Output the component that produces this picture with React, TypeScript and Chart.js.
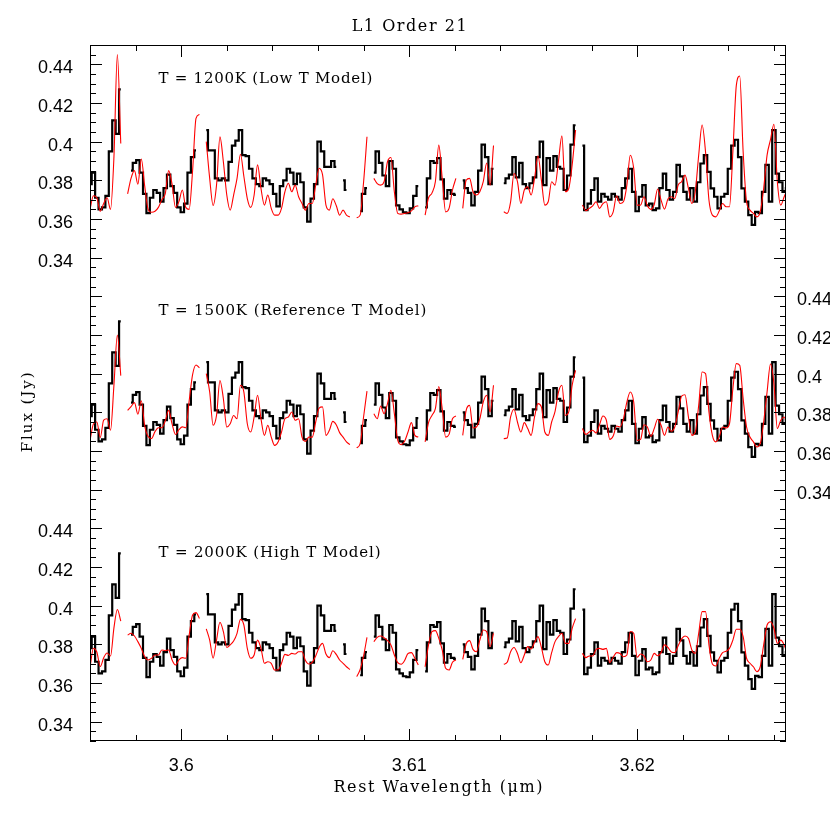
import React, { useEffect, useRef } from 'react';
import { Chart, registerables } from 'chart.js';

Chart.register(...registerables);

// ---------- data ----------
const WAVELENGTH_START = 3.596; // µm, first sample of the regular grid
const WAVELENGTH_STEP = 0.00015; // µm per sample
const X_MIN = 3.596;
const X_MAX = 3.62653;
const Y_MIN = 0.33;
const Y_MAX = 0.69;

const N = null;

// observed spectrum (same in all three panels), Jy
const observedFlux: (number | null)[] = [
  0.378, 0.384, 0.371, 0.365, 0.366, 0.372, 0.395, 0.411, 0.404, 0.427,
  N, N, 0.385, 0.389, 0.3905, 0.384, 0.373, 0.363, 0.371, 0.375,
  0.3735, 0.369, 0.376, 0.383, 0.377, 0.3735, 0.366, 0.3635, 0.368, 0.384,
  0.392, 0.3955, N, N, 0.406, 0.3955, 0.3955, 0.381, 0.38, 0.381,
  0.38, 0.3895, 0.398, 0.4005, 0.406, 0.393, 0.3925, 0.386, 0.381, 0.378,
  0.377, 0.381, 0.38, 0.378, 0.373, 0.3665, 0.377, 0.38, 0.386, 0.384,
  0.378, 0.3835, 0.379, 0.366, 0.3586, 0.3705, 0.378, 0.4, 0.395, 0.387,
  0.387, 0.39, 0.387, N, 0.38, 0.375, N, N, N, 0.364,
  0.373, 0.376, N, 0.384, 0.395, 0.389, 0.3825, 0.377, 0.39, 0.386,
  0.367, 0.365, 0.3635, 0.363, 0.3655, 0.372, 0.377, N, 0.366, 0.381,
  0.39, 0.389, 0.3915, 0.3805, 0.3705, 0.375, 0.373, 0.3725, N, 0.38,
  0.376, 0.3735, 0.367, 0.374, 0.385, 0.3985, 0.392, 0.378, 0.386, N,
  N, 0.3785, 0.381, 0.383, 0.392, 0.3815, 0.389, 0.378, 0.376, 0.3785,
  0.3815, 0.392, 0.4, 0.3775, 0.3915, 0.385, 0.3925, 0.387, 0.386, 0.375,
  0.3825, 0.3985, 0.4085, N, 0.398, 0.3646, 0.368, 0.375, 0.381, 0.369,
  0.373, 0.3715, 0.37, 0.373, 0.3715, 0.37, 0.376, 0.381, 0.386, 0.374,
  0.364, 0.3715, 0.3775, 0.367, 0.368, 0.3646, 0.3655, 0.376, 0.3835, 0.375,
  0.37, 0.374, 0.388, 0.382, 0.374, 0.37, 0.376, 0.369, 0.379, 0.3887,
  0.393, 0.3844, 0.3758, 0.3715, 0.3655, 0.3715, 0.373, 0.386, 0.398, 0.401,
  0.392, 0.3758, 0.369, 0.362, 0.357, 0.3637, 0.363, 0.374, 0.388, 0.369,
  0.406, 0.3835, 0.379, 0.374, 0.376,
];

// T = 1200K model
const model1200K: (number | null)[] = [
  0.365, 0.372, 0.371, 0.364, 0.368, 0.371, 0.365, 0.392, 0.445, 0.399,
  N, 0.373, 0.381, 0.385, 0.378, 0.391, 0.377, 0.365, 0.3635, 0.364,
  0.366, 0.37, 0.373, 0.385, 0.378, 0.366, 0.369, 0.375, 0.366, 0.365,
  0.385, 0.412, 0.414, N, 0.4, 0.381, 0.367, 0.3775, 0.4025, 0.3896,
  0.3724, 0.3646, 0.3724, 0.381, 0.3935, 0.382, 0.3706, 0.366, 0.3724, 0.388,
  0.3758, 0.3672, 0.3724, 0.3655, 0.362, 0.362, 0.3655, 0.3741, 0.3785, 0.3741,
  0.3775, 0.3715, 0.368, 0.3646, 0.368, 0.368, 0.3775, 0.3862, 0.383, 0.3672,
  0.3646, 0.3705, 0.367, 0.362, 0.3646, 0.362, 0.361, N, 0.3607, 0.362,
  0.379, 0.4025, N, 0.381, 0.3783, 0.3775, 0.3793, 0.3896, 0.3918, 0.3741,
  0.3629, 0.3625, 0.3629, 0.3632, 0.3642, 0.3663, 0.3668, N, 0.362, 0.371,
  0.3734, 0.3793, 0.3982, 0.381, 0.3637, 0.3655, 0.375, 0.381, N, 0.3655,
  0.38, 0.381, 0.3741, 0.3724, 0.3741, 0.3793, 0.389, 0.3775, 0.398, N,
  N, 0.3637, 0.3629, 0.3689, 0.3835, 0.3793, 0.368, 0.375, 0.3767, 0.3724,
  0.381, 0.3927, 0.3801, 0.3672, 0.3689, 0.3793, 0.3775, 0.39, 0.403, 0.3741,
  0.3758, 0.3879, 0.406, N, 0.3672, 0.3643, 0.3655, 0.3668, 0.3689, 0.3655,
  0.368, 0.3689, 0.3611, 0.3637, 0.372, 0.368, 0.3689, 0.3775, 0.393, 0.3862,
  0.3672, 0.3672, 0.3715, 0.3668, 0.365, 0.3675, 0.3755, 0.3698, 0.3651, 0.3703,
  0.3715, 0.3706, 0.3775, 0.3793, 0.3827, 0.3758, 0.368, 0.3741, 0.393, 0.4086,
  0.3948, 0.3698, 0.362, 0.3611, 0.3641, 0.368, 0.3663, 0.3663, 0.3948, 0.429,
  0.434, 0.3948, 0.3689, 0.3646, 0.3629, 0.3611, 0.3637, 0.3758, 0.393, 0.401,
  0.409, 0.3793, 0.3672, 0.3715, 0.3758,
];

// T = 1500K model
const model1500K: (number | null)[] = [
  0.3655, 0.374, 0.375, 0.367, 0.376, 0.3767, 0.3707, 0.394, 0.42, 0.399,
  N, 0.381, 0.383, 0.385, 0.379, 0.386, 0.373, 0.3675, 0.3665, 0.37,
  0.372, 0.372, 0.3755, 0.381, 0.374, 0.3685, 0.371, 0.3725, 0.372, 0.386,
  0.3995, 0.4045, 0.403, N, 0.4, 0.3905, 0.3733, 0.3784, 0.3965, 0.3871,
  0.3724, 0.3741, 0.3784, 0.3767, 0.394, 0.3905, 0.3741, 0.3698, 0.3776, 0.3888,
  0.3767, 0.3681, 0.3733, 0.3672, 0.3629, 0.3647, 0.3698, 0.3767, 0.3776, 0.3802,
  0.3759, 0.3767, 0.3672, 0.365, 0.3672, 0.3672, 0.375, 0.3822, 0.3828, 0.3681,
  0.3707, 0.3753, 0.3736, 0.3695, 0.3672, 0.3647, 0.3633, N, 0.3616, 0.3638,
  0.3776, 0.391, N, 0.3793, 0.3767, 0.3833, 0.3793, 0.3845, 0.3914, 0.3793,
  0.3655, 0.3633, 0.365, 0.3698, 0.3747, 0.3681, 0.3672, N, 0.3647, 0.3747,
  0.3784, 0.3819, 0.3934, 0.3819, 0.3672, 0.3686, 0.3767, 0.3781, N, 0.3681,
  0.381, 0.3836, 0.3719, 0.3724, 0.3767, 0.3853, 0.3888, 0.3802, 0.394, N,
  N, 0.3664, 0.3667, 0.3776, 0.3816, 0.375, 0.3698, 0.3747, 0.3716, 0.3681,
  0.3776, 0.3845, 0.3828, 0.3698, 0.3681, 0.375, 0.3805, 0.3905, 0.394, 0.3784,
  0.3802, 0.394, 0.4017, N, 0.3716, 0.3686, 0.3698, 0.3707, 0.3693, 0.3736,
  0.3781, 0.3759, 0.366, 0.3678, 0.3729, 0.3724, 0.3767, 0.3853, 0.3905, 0.3853,
  0.3655, 0.366, 0.3736, 0.3724, 0.3676, 0.3716, 0.3764, 0.3733, 0.3681, 0.3724,
  0.3702, 0.3724, 0.3802, 0.3884, 0.3891, 0.3776, 0.3681, 0.3698, 0.3836, 0.4009,
  0.4, 0.3802, 0.3681, 0.3647, 0.3672, 0.3724, 0.3719, 0.3741, 0.3922, 0.4052,
  0.4043, 0.3871, 0.3724, 0.3672, 0.3647, 0.3621, 0.3638, 0.375, 0.3905, 0.405,
  0.395, 0.3716, 0.3759, 0.3776, 0.3707,
];

// T = 2000K model
const model2000K: (number | null)[] = [
  0.368, 0.378, 0.376, 0.3685, 0.373, 0.3755, 0.374, 0.3885, 0.398, 0.392,
  N, 0.3848, 0.3857, 0.3843, 0.3814, 0.3779, 0.3736, 0.3719, 0.3728, 0.3745,
  0.3745, 0.3771, 0.3767, 0.3771, 0.3719, 0.3693, 0.3719, 0.3731, 0.3728, 0.3848,
  0.3952, 0.3964, 0.3934, N, 0.388, 0.3822, 0.3728, 0.3822, 0.3914, 0.3866,
  0.3784, 0.3797, 0.3817, 0.3857, 0.3929, 0.39, 0.3779, 0.3728, 0.3745, 0.3822,
  0.3779, 0.3702, 0.371, 0.3702, 0.3667, 0.3667, 0.3702, 0.3748, 0.3743, 0.3753,
  0.375, 0.3762, 0.3762, 0.3716, 0.3698, 0.3707, 0.374, 0.3784, 0.3805, 0.375,
  0.3731, 0.3767, 0.3748, 0.3719, 0.3702, 0.3684, 0.367, N, 0.3633, 0.367,
  0.374, 0.3836, N, 0.3814, 0.3836, 0.3843, 0.3834, 0.3819, 0.3797, 0.3745,
  0.3705, 0.3697, 0.3716, 0.3753, 0.3757, 0.3728, 0.3693, N, 0.3684, 0.3797,
  0.3866, 0.3871, 0.3831, 0.3771, 0.3676, 0.3667, 0.3707, 0.3719, N, 0.3722,
  0.3802, 0.3819, 0.3774, 0.3762, 0.3822, 0.3874, 0.3866, 0.3788, 0.3857, N,
  N, 0.3697, 0.3707, 0.3762, 0.3784, 0.3753, 0.3705, 0.3745, 0.3788, 0.3776,
  0.3809, 0.384, 0.3784, 0.371, 0.3693, 0.3757, 0.3814, 0.384, 0.3857, 0.3805,
  0.3805, 0.3883, 0.3933, N, 0.3753, 0.3731, 0.374, 0.374, 0.3774, 0.3779,
  0.3774, 0.3779, 0.3705, 0.3733, 0.3757, 0.3753, 0.3736, 0.3745, 0.3866, 0.3857,
  0.3733, 0.375, 0.374, 0.371, 0.3719, 0.3753, 0.3741, 0.3757, 0.3797, 0.3784,
  0.376, 0.3757, 0.3793, 0.3828, 0.3843, 0.3831, 0.3771, 0.3753, 0.3857, 0.3969,
  0.3969, 0.3797, 0.3698, 0.3688, 0.3728, 0.3757, 0.3764, 0.3779, 0.3822, 0.3878,
  0.3878, 0.384, 0.3728, 0.3702, 0.3684, 0.3659, 0.3684, 0.3797, 0.39, 0.3917,
  0.3883, 0.3805, 0.3822, 0.3797, 0.3745,
];

const panelOffsets = [0.24, 0.12, 0]; // top, middle, bottom panel vertical offsets (Jy)
const panelModels = [model1200K, model1500K, model2000K];
const panelLabels = [
  'T = 1200K (Low T Model)',
  'T = 1500K (Reference T Model)',
  'T = 2000K (High T Model)',
];
const panelLabelFlux = [0.4325, 0.4325, 0.4272];
const panelLabelWavelength = 3.599;
const xTickValues = [3.6, 3.61, 3.62];
const fluxTickValues = [0.34, 0.36, 0.38, 0.4, 0.42, 0.44];
const chartTitle = 'L1 Order 21';
const xTitle = 'Rest Wavelength (\u03bcm)';
const yTitle = 'Flux (Jy)';

// ---------- helpers ----------
const toPoints = (arr: (number | null)[], off: number) =>
  arr.map((f, i) => ({
    x: WAVELENGTH_START + i * WAVELENGTH_STEP,
    y: f === null ? null : f + off,
  }));

const fmt = (v: number) => String(+v.toFixed(3));

function drawSpaced(
  ctx: CanvasRenderingContext2D,
  text: string,
  x: number,
  y: number,
  targetWidth: number,
  align: 'left' | 'center'
) {
  (ctx as any).letterSpacing = '0px';
  const w = ctx.measureText(text).width;
  const ls = text.length > 1 ? (targetWidth - w) / (text.length - 1) : 0;
  (ctx as any).letterSpacing = ls.toFixed(2) + 'px';
  ctx.textAlign = 'left';
  const sx = align === 'center' ? x - targetWidth / 2 : x;
  ctx.fillText(text, sx, y);
  (ctx as any).letterSpacing = '0px';
}

const framePlugin = {
  id: 'pgFrame',
  afterDraw(chart: any) {
    const { ctx, chartArea: a, scales } = chart;
    const xs = scales.x;
    const ys = scales.y;
    ctx.save();
    ctx.strokeStyle = '#000';
    ctx.lineWidth = 1;
    ctx.strokeRect(a.left + 0.5, a.top + 0.5, a.right - a.left - 1, a.bottom - a.top - 1);

    ctx.beginPath();
    const kx0 = Math.ceil(X_MIN / 0.002 - 1e-6);
    const kx1 = Math.floor(X_MAX / 0.002 + 1e-6);
    for (let k = kx0; k <= kx1; k++) {
      const px = Math.round(xs.getPixelForValue(k * 0.002)) + 0.5;
      const len = k % 5 === 0 ? 12 : 6;
      ctx.moveTo(px, a.bottom);
      ctx.lineTo(px, a.bottom - len);
      ctx.moveTo(px, a.top);
      ctx.lineTo(px, a.top + len);
    }
    const ky0 = Math.ceil(Y_MIN / 0.005 - 1e-6);
    const ky1 = Math.floor(Y_MAX / 0.005 + 1e-6);
    for (let k = ky0; k <= ky1; k++) {
      const py = Math.round(ys.getPixelForValue(k * 0.005)) + 0.5;
      const len = k % 4 === 0 ? 12 : 6;
      ctx.moveTo(a.left, py);
      ctx.lineTo(a.left + len, py);
      ctx.moveTo(a.right, py);
      ctx.lineTo(a.right - len, py);
    }
    ctx.stroke();

    ctx.fillStyle = '#000';
    ctx.textBaseline = 'middle';

    // title
    ctx.font = '16px "DejaVu Serif"';
    drawSpaced(ctx, chartTitle, xs.getPixelForValue(3.61), a.top - 18, 115, 'center');

    // panel labels
    ctx.font = '15px "DejaVu Serif"';
    const widths = [214, 268, 222];
    panelLabels.forEach((lbl, k) => {
      const px = xs.getPixelForValue(panelLabelWavelength);
      const py = ys.getPixelForValue(panelLabelFlux[k] + panelOffsets[k]);
      drawSpaced(ctx, lbl, px, py, widths[k], 'left');
    });

    // x title
    ctx.font = '16px "DejaVu Serif"';
    drawSpaced(ctx, xTitle, (a.left + a.right) / 2, a.bottom + 47, 209, 'center');

    // y title
    ctx.save();
    ctx.translate(28, ys.getPixelForValue(0.5));
    ctx.rotate(-Math.PI / 2);
    ctx.font = '15px "DejaVu Serif"';
    drawSpaced(ctx, yTitle, 0, 0, 80, 'center');
    ctx.restore();

    ctx.restore();
  },
};

export default function App() {
  const canvasRef = useRef<HTMLCanvasElement>(null);

  useEffect(() => {
    document.body.style.margin = '0';
    const canvas = canvasRef.current;
    if (!canvas) return;

    const redSets = panelModels.map((m, k) => ({
      label: panelLabels[k],
      data: toPoints(m, panelOffsets[k]),
      borderColor: '#ff0000',
      borderWidth: 1.1,
      pointRadius: 0,
      fill: false,
      spanGaps: false,
      cubicInterpolationMode: 'monotone' as const,
    }));
    const blackSets = panelOffsets.map((off, k) => ({
      label: 'observed ' + k,
      data: toPoints(observedFlux, off),
      borderColor: '#000000',
      borderWidth: 2.2,
      pointRadius: 0,
      fill: false,
      spanGaps: false,
      stepped: 'middle' as const,
    }));

    const tickFont = { family: '"Liberation Sans", Arial, sans-serif', size: 18 };
    const leftTicks = [
      ...fluxTickValues.map((f) => f + panelOffsets[2]),
      ...fluxTickValues.map((f) => f + panelOffsets[0]),
    ];
    const rightTicks = fluxTickValues.map((f) => f + panelOffsets[1]);

    const chart = new Chart(canvas, {
      type: 'line',
      data: { datasets: [...redSets, ...blackSets] as any },
      options: {
        responsive: false,
        animation: false,
        devicePixelRatio: 1,
        layout: { padding: { top: 45, left: 0, right: 0, bottom: 0 } },
        plugins: {
          legend: { display: false },
          tooltip: { enabled: false },
          title: { display: false },
        },
        scales: {
          x: {
            type: 'linear',
            min: X_MIN,
            max: X_MAX,
            position: 'bottom',
            grid: { display: false, drawTicks: false },
            border: { display: false },
            afterBuildTicks: (s: any) => {
              s.ticks = xTickValues.map((v) => ({ value: v }));
            },
            afterFit: (s: any) => {
              s.height = 89;
            },
            ticks: {
              font: tickFont,
              color: '#000',
              padding: 14,
              maxRotation: 0,
              autoSkip: false,
              callback: (v: any) => fmt(Number(v)),
            },
          },
          y: {
            type: 'linear',
            min: Y_MIN,
            max: Y_MAX,
            position: 'left',
            grid: { display: false, drawTicks: false },
            border: { display: false },
            afterBuildTicks: (s: any) => {
              s.ticks = leftTicks.map((v) => ({ value: v }));
            },
            afterFit: (s: any) => {
              s.width = 90;
            },
            ticks: {
              font: tickFont,
              color: '#000',
              padding: 17,
              labelOffset: 4,
              autoSkip: false,
              callback: (v: any) => {
                const n = Number(v);
                return fmt(n > 0.5 ? n - panelOffsets[0] : n - panelOffsets[2]);
              },
            },
          },
          y2: {
            type: 'linear',
            min: Y_MIN,
            max: Y_MAX,
            position: 'right',
            grid: { display: false, drawTicks: false },
            border: { display: false },
            afterBuildTicks: (s: any) => {
              s.ticks = rightTicks.map((v) => ({ value: v }));
            },
            afterFit: (s: any) => {
              s.width = 44;
            },
            ticks: {
              font: tickFont,
              color: '#000',
              padding: 11,
              labelOffset: 4,
              autoSkip: false,
              callback: (v: any) => fmt(Number(v) - panelOffsets[1]),
            },
          },
        },
      } as any,
      plugins: [framePlugin],
    });

    return () => chart.destroy();
  }, []);

  return (
    <div style={{ width: 830, height: 830 }}>
      <canvas ref={canvasRef} width={830} height={830} style={{ display: 'block' }} />
    </div>
  );
}
